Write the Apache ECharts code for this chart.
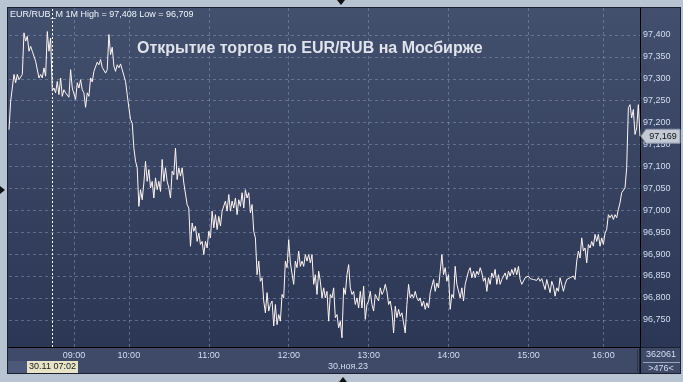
<!DOCTYPE html>
<html><head><meta charset="utf-8">
<script src="https://cdn.jsdelivr.net/npm/echarts@6/dist/echarts.min.js"></script>
<style>html,body{margin:0;padding:0;background:#b9c4d3}#c{width:683px;height:382px}</style>
</head><body><div id="c"></div>
<script>
// EUR/RUB minute rates (left to right)
const rates = [
97.184,97.249,97.245,97.310,97.291,97.310,97.298,97.298,97.310,97.405,
97.386,97.397,97.363,97.374,97.363,97.367,97.340,97.336,97.302,97.310,
97.302,97.325,97.306,97.408,97.363,97.393,97.272,97.279,97.268,97.294,
97.264,97.302,97.260,97.275,97.268,97.268,97.258,97.321,97.279,97.275,
97.253,97.291,97.279,97.298,97.275,97.268,97.235,97.268,97.260,97.302,
97.293,97.317,97.313,97.338,97.332,97.344,97.326,97.329,97.313,97.321,
97.401,97.355,97.372,97.329,97.317,97.332,97.325,97.334,97.321,97.325,
97.294,97.264,97.234,97.207,97.199,97.142,97.112,97.097,97.009,97.047,
97.024,97.062,97.112,97.066,97.093,97.051,97.066,97.028,97.074,97.047,
97.066,97.043,97.116,97.066,97.097,
97.066,97.051,97.028,97.089,97.081,97.142,97.070,97.097,97.078,97.097,
97.062,97.066,97.013,97.005,96.918,96.971,96.952,96.964,96.929,96.948,
96.922,96.929,96.899,96.929,96.914,96.952,96.937,96.998,96.960,96.990,
96.956,96.986,96.964,96.998,96.998,97.021,96.998,97.036,96.998,97.021,
97.005,97.028,96.990,97.024,97.009,97.040,97.005,97.047,97.028,97.040,
96.994,97.013,96.952,96.937,96.853,96.884,96.838,96.846,96.793,96.766,
96.812,96.770,96.785,96.793,96.736,96.785,96.739,96.762,96.747,96.808,
96.800,96.884,96.869,96.933,96.880,96.884,96.831,96.884,96.869,96.907,
96.872,96.884,96.872,96.899,96.884,96.899,96.880,96.899,96.831,96.853,
96.808,96.861,96.838,96.800,96.823,
96.800,96.815,96.747,96.808,96.800,96.823,96.755,96.762,96.732,96.747,
96.709,96.823,96.808,96.853,96.876,96.823,96.808,96.815,96.785,96.800,
96.777,96.815,96.777,96.827,96.751,96.785,96.793,96.815,96.785,96.770,
96.808,96.800,96.793,96.823,96.808,96.815,96.831,96.815,96.785,96.793,
96.770,96.720,96.781,96.755,96.774,96.758,96.766,96.743,96.720,96.785,
96.831,96.800,96.808,96.800,96.815,96.800,96.793,96.800,96.781,96.793,
96.774,96.789,96.777,96.812,96.815,96.842,96.815,96.834,96.823,96.861,
96.899,96.853,96.869,96.838,96.853,96.774,96.808,96.800,96.872,96.831,
96.834,96.800,96.823,96.793,96.831,96.846,96.861,96.869,96.846,96.861,
96.846,96.861,96.853,96.869,96.857,
96.838,96.846,96.815,96.846,96.831,96.857,96.846,96.865,96.831,96.853,
96.831,96.842,96.838,96.857,96.842,96.861,96.850,96.865,96.853,96.869,
96.853,96.872,96.842,96.831,96.827,96.846,96.842,96.850,96.844,96.847,
96.842,96.846,96.840,96.846,96.838,96.844,96.831,96.819,96.842,96.827,
96.812,96.838,96.827,96.804,96.823,96.815,96.846,96.831,96.815,96.831,
96.842,96.838,96.846,96.842,96.850,96.842,96.884,96.907,96.891,96.937,
96.907,96.914,96.880,96.922,96.914,96.929,96.918,96.945,96.929,96.945,
96.918,96.937,96.922,96.948,96.956,96.990,96.983,96.990,96.979,96.990,
96.983,97.002,97.017,97.040,97.043,97.051,97.097,97.234,97.241,97.211,
97.230,97.173,97.188,97.241,97.169
];
// bar index at which known clock times fall
const anchorIndex = [0, 26, 39, 72, 120, 168, 216, 264, 312, 357, 379];
const anchorTime  = ['06:36','07:02','09:00','10:00','11:00','12:00','13:00','14:00','15:00','16:00','16:27'];
const hourTicks   = ['09:00','10:00','11:00','12:00','13:00','14:00','15:00','16:00'];
const yTicks = [96.75,96.80,96.85,96.90,96.95,97.00,97.05,97.10,97.15,97.20,97.25,97.30,97.35,97.40];
const yMin = 96.688, yMax = 97.4616;
const cursorTime = '07:02';
const titleText = 'Открытие торгов по EUR/RUB на Мосбирже';
const infoText = 'EUR/RUB_M 1M High = 97,408 Low = 96,709';
const dateText = '30.ноя.23';
const cursorText = '30.11 07:02';
const volText = '362061';
const cntText = '>476<';

function toMin(t){const p=t.split(':');return +p[0]*60+ +p[1];}
function fmt(m){m=Math.floor(m);const h=Math.floor(m/60),mm=m%60;return (h<10?'0':'')+h+':'+(mm<10?'0':'')+mm;}
const categories = rates.map((_, i) => {
  let k = 0;
  while (k < anchorIndex.length - 2 && i >= anchorIndex[k+1]) k++;
  const i0 = anchorIndex[k], i1 = anchorIndex[k+1];
  const t0 = toMin(anchorTime[k]), t1 = toMin(anchorTime[k+1]);
  return fmt(t0 + (t1 - t0) * (i - i0) / (i1 - i0));
});
const hourIdx = hourTicks.map(t => categories.indexOf(t));

const FONT = '"Liberation Sans", Arial, sans-serif';
const LBL = '#d3def2';
const chart = echarts.init(document.getElementById('c'), null, {renderer:'canvas'});
const fmtNum = v => v.toFixed(3).replace('.', ',');

const baseGraphics = [
  {type:'rect', z:-20, shape:{x:7,y:7,width:674,height:367}, style:{fill:'#1a2030'}},
  {type:'rect', z:-19, shape:{x:8,y:8,width:632,height:339}, style:{fill:new echarts.graphic.LinearGradient(0,0,0,1,[{offset:0,color:'#424f6d'},{offset:1,color:'#2c3655'}])}},
  {type:'rect', z:-19, shape:{x:641,y:8,width:39,height:339}, style:{fill:new echarts.graphic.LinearGradient(0,0,0,1,[{offset:0,color:'#424f6d'},{offset:1,color:'#2c3655'}])}},
  {type:'rect', z:-19, shape:{x:8,y:348,width:632,height:25}, style:{fill:'#3e4a67'}},
  {type:'rect', z:-19, shape:{x:641,y:348,width:39,height:25}, style:{fill:'#3e4a67'}},
  {type:'rect', z:-18, shape:{x:8,y:361,width:19,height:12}, style:{fill:'#4c5979'}},
  {type:'line', z:-18, shape:{x1:637.5,y1:350,x2:637.5,y2:372}, style:{stroke:'#2a3347',lineWidth:1}},
  {type:'line', z:-18, shape:{x1:640,y1:347,x2:640,y2:374}, style:{stroke:'#000',lineWidth:1}},
  {type:'line', z:-18, shape:{x1:643,y1:362.5,x2:680,y2:362.5}, style:{stroke:'#9aa5b8',lineWidth:1}},
  // cursor time tag
  {type:'rect', z:20, shape:{x:27,y:361,width:51,height:12}, style:{fill:'#e7e3c6'}},
  {type:'text', z:21, x:52.5, y:367, style:{text:cursorText, font:'9px '+FONT, fill:'#1a1a1a', align:'center', verticalAlign:'middle'}},
  // date
  {type:'text', z:20, x:348, y:367, style:{text:dateText, font:'9px '+FONT, fill:LBL, align:'center', verticalAlign:'middle'}},
  // volume cells
  {type:'text', z:20, x:661, y:355, style:{text:volText, font:'9px '+FONT, fill:LBL, align:'center', verticalAlign:'middle'}},
  {type:'text', z:20, x:661, y:369, style:{text:cntText, font:'9px '+FONT, fill:LBL, align:'center', verticalAlign:'middle'}},
  // header texts
  {type:'text', z:20, x:10, y:15, style:{text:infoText, font:'9px '+FONT, fill:'#eef3fb', align:'left', verticalAlign:'middle'}},
  {type:'text', z:20, x:137, y:49, style:{text:titleText, font:'bold 16px '+FONT, fill:'#dfe3ec', align:'left', verticalAlign:'middle'}},
  // frame markers
  {type:'polygon', z:20, shape:{points:[[337,0],[345,0],[341,5]]}, style:{fill:'#111'}},
  {type:'polygon', z:20, shape:{points:[[339,382],[347,382],[343,377]]}, style:{fill:'#111'}},
  {type:'polygon', z:20, shape:{points:[[0,186],[0,194],[5,190]]}, style:{fill:'#111'}}
];

chart.setOption({
  animation:false,
  backgroundColor:'#b9c4d3',
  textStyle:{fontFamily:FONT},
  grid:{left:9, right:43, top:8, bottom:35, containLabel:false},
  xAxis:{
    type:'category', data:categories, boundaryGap:false,
    axisLine:{show:true, lineStyle:{color:'#000', width:1}},
    axisTick:{show:false},
    axisLabel:{color:LBL, fontSize:9, fontFamily:FONT, margin:4,
      interval:(i)=>hourIdx.indexOf(i) >= 0},
    splitLine:{show:true, interval:(i)=>hourIdx.indexOf(i) >= 0,
      lineStyle:{color:'rgba(140,156,190,0.5)', type:[3,3], width:1}}
  },
  yAxis:{
    type:'value', position:'right', min:yMin, max:yMax,
    axisLine:{show:true, lineStyle:{color:'#000', width:1}},
    axisTick:{show:false, customValues:yTicks},
    axisLabel:{customValues:yTicks, formatter:fmtNum, color:LBL, fontSize:9, fontFamily:FONT, margin:3},
    splitLine:{show:true, lineStyle:{color:'rgba(140,156,190,0.5)', type:[3,3], width:1}}
  },
  graphic:baseGraphics,
  series:[{
    type:'line', data:rates, showSymbol:false, symbol:'none',
    lineStyle:{color:'#fff6f2', width:1}, clip:true,
    markLine:{silent:true, symbol:'none', label:{show:false},
      lineStyle:{color:'#ffffff', type:[2,2], width:1},
      data:[{xAxis:cursorTime}]}
  }]
});

// last-price tag on the value axis
const last = rates[rates.length-1];
const py = chart.convertToPixel({yAxisIndex:0}, last);
chart.setOption({graphic: baseGraphics.concat([
  {type:'polygon', z:30, shape:{points:[[641,py],[646,py-7],[680,py-7],[680,py+7],[646,py+7]]}, style:{fill:'#c3cad6', stroke:'#8d97a8', lineWidth:1}},
  {type:'text', z:31, x:663, y:py, style:{text:fmtNum(last), font:'9px '+FONT, fill:'#111', align:'center', verticalAlign:'middle'}}
])});
</script></body></html>
